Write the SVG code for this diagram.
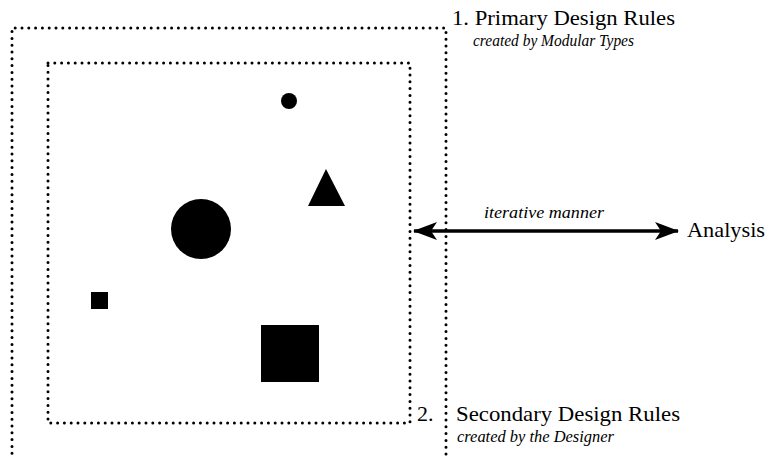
<svg xmlns="http://www.w3.org/2000/svg" width="767" height="457" viewBox="0 0 767 457">
  <defs>
    <style>
      .dotted { fill: none; stroke: #000; stroke-width: 3; stroke-linecap: round; stroke-dasharray: 0 6.8; }
      .shape { fill: #000; }
      .title { font-family: "Liberation Serif", "Times New Roman", serif; font-size: 22px; fill: #000; }
      .sub { font-family: "Liberation Serif", "Times New Roman", serif; font-style: italic; font-size: 16px; fill: #000; }
      .link { stroke: #000; stroke-width: 3.4; fill: none; }
    </style>
    <marker id="head" viewBox="0 0 24 18" refX="23" refY="9" markerWidth="24" markerHeight="18" markerUnits="userSpaceOnUse" orient="auto-start-reverse">
      <path d="M0,0 L24,9 L0,18 L6,9 Z" fill="#000"/>
    </marker>
  </defs>
  <rect width="767" height="457" fill="#fff"/>

  <!-- outer boundary: primary design rules -->
  <g id="primary-rules">
    <path class="dotted" d="M12,460 L12,28 L446,28 L446,460"/>
    <text class="title" x="452" y="25" textLength="223" lengthAdjust="spacingAndGlyphs">1. Primary Design Rules</text>
    <text class="sub" x="473" y="46" textLength="161" lengthAdjust="spacingAndGlyphs">created by Modular Types</text>
  </g>

  <!-- inner boundary: secondary design rules -->
  <g id="secondary-rules">
    <path class="dotted" d="M48,63 L410,63 L410,423 L48,423 Z"/>
    <text class="title" x="417" y="421">2.</text>
    <text class="title" x="456" y="421" textLength="224" lengthAdjust="spacingAndGlyphs">Secondary Design Rules</text>
    <text class="sub" x="457" y="442" textLength="157" lengthAdjust="spacingAndGlyphs">created by the Designer</text>
  </g>

  <!-- modules inside the design -->
  <g id="small-circle"><circle class="shape" cx="289" cy="101" r="8"/></g>
  <g id="triangle"><polygon class="shape" points="326,169 345,206 308,206"/></g>
  <g id="large-circle"><circle class="shape" cx="201" cy="229" r="30"/></g>
  <g id="small-square"><rect class="shape" x="91" y="292" width="17" height="17"/></g>
  <g id="large-square"><rect class="shape" x="261" y="325" width="58" height="57"/></g>

  <g id="analysis">
    <text class="title" x="687" y="237" textLength="78" lengthAdjust="spacingAndGlyphs">Analysis</text>
  </g>

  <!-- connectors -->
  <g id="connectors">
    <line class="link" x1="414" y1="231" x2="678" y2="231" marker-start="url(#head)" marker-end="url(#head)"/>
    <text class="sub" x="484" y="218" textLength="120" lengthAdjust="spacingAndGlyphs">iterative manner</text>
  </g>
</svg>
